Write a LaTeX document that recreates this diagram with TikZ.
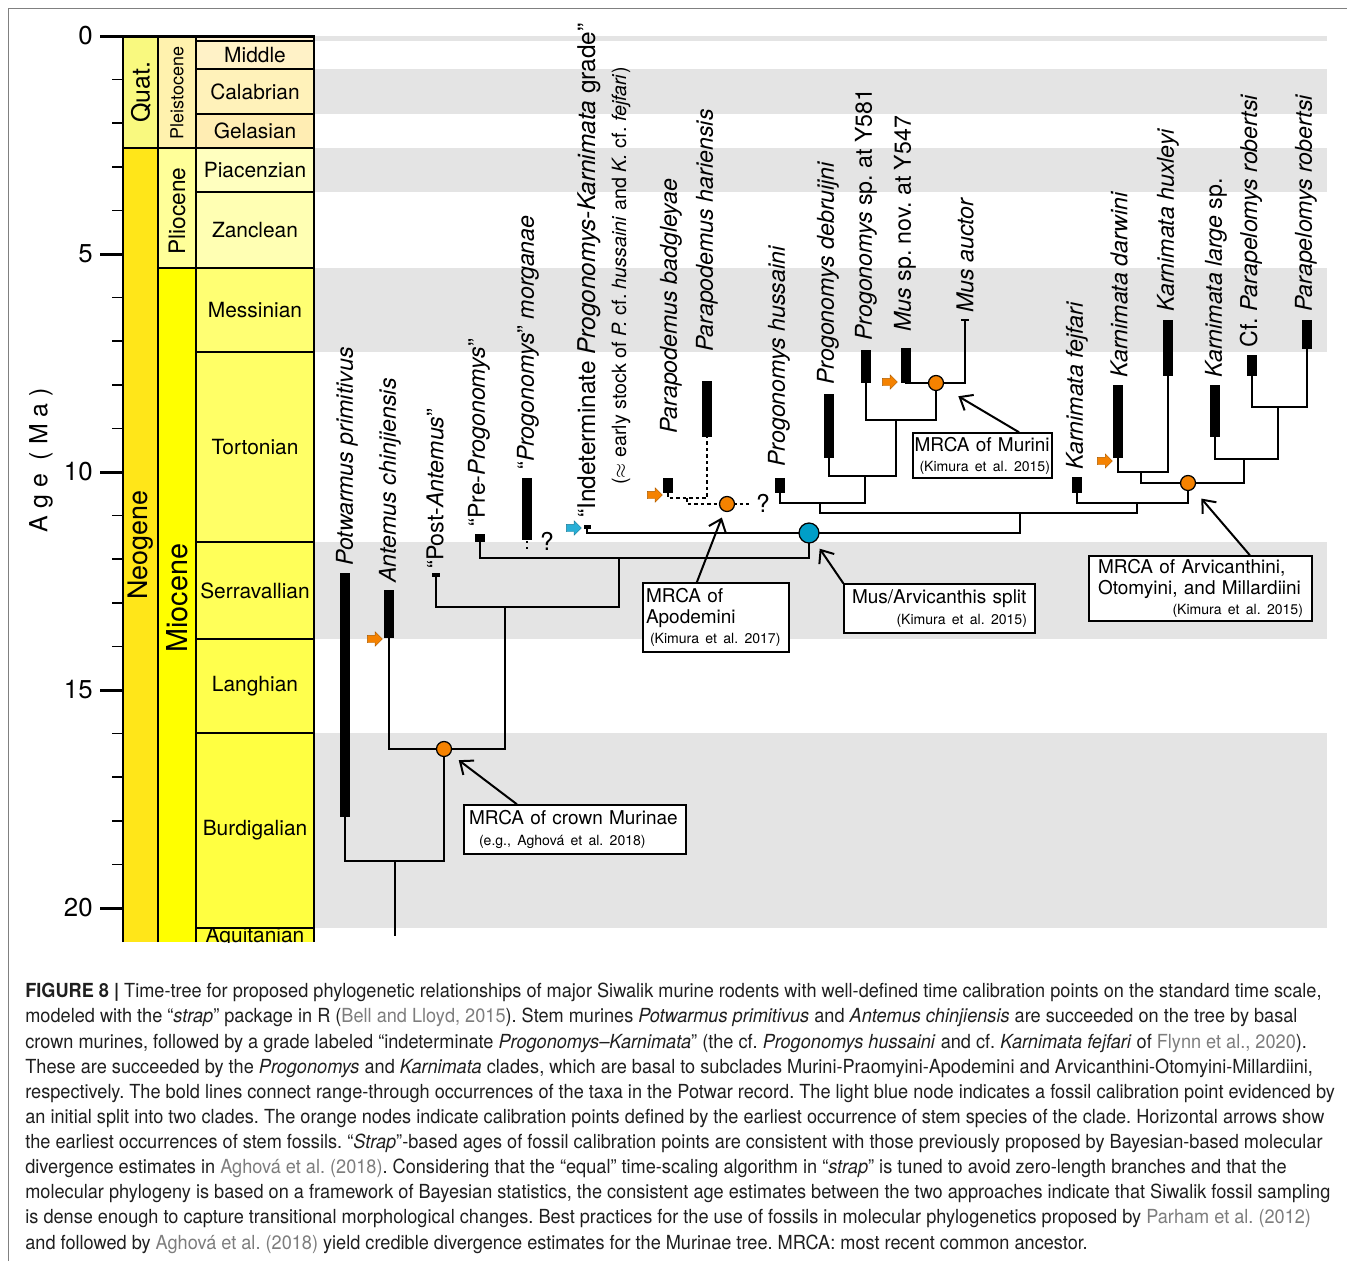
\documentclass[tikz,border=0pt]{standalone}
\usepackage{fontspec}
\setmainfont{TeX Gyre Heros}
\newfontfamily\capfont[FakeStretch=0.935]{TeX Gyre Heros}
\usetikzlibrary{arrows.meta, shapes.arrows, calc}
\definecolor{quatcol}{RGB}{249,249,127}
\definecolor{neogcol}{RGB}{255,230,25}
\definecolor{pleiscol}{RGB}{255,242,174}
\definecolor{pliocol}{RGB}{255,255,153}
\definecolor{miocol}{RGB}{255,255,0}
\definecolor{upl}{RGB}{255,242,211}
\definecolor{mid}{RGB}{255,242,199}
\definecolor{cal}{RGB}{255,242,186}
\definecolor{gel}{RGB}{255,237,179}
\definecolor{pia}{RGB}{255,255,191}
\definecolor{zan}{RGB}{255,255,179}
\definecolor{mes}{RGB}{255,255,115}
\definecolor{tor}{RGB}{255,255,102}
\definecolor{ser}{RGB}{255,255,89}
\definecolor{lan}{RGB}{255,255,77}
\definecolor{bur}{RGB}{255,255,65}
\definecolor{aqu}{RGB}{255,255,51}
\definecolor{bandgray}{RGB}{228,228,228}
\definecolor{calorange}{RGB}{245,130,0}
\definecolor{calblue}{RGB}{0,158,200}
\definecolor{arrblue}{RGB}{40,175,215}
\definecolor{refgray}{RGB}{125,125,125}
\newcommand{\gref}[1]{\textcolor{refgray}{#1}}
\newcommand{\refline}[1]{{\fontsize{8.0}{10}\selectfont\mbox{#1}}}

\begin{document}
\frenchspacing
\begin{tikzpicture}[x=0.02cm, y=-0.02cm,
    colbox/.style={draw=black, line width=0.04cm},
    stagelbl/.style={font=\fontsize{11.9}{14}\selectfont, inner sep=0pt},
    unitlbl/.style={rotate=90, inner sep=0pt},
    tick/.style={line width=0.035cm},
    majtick/.style={line width=0.06cm},
    branch/.style={line width=0.05cm, line cap=rect},
    rangebar/.style={line width=0.19cm},
    ghost/.style={line width=0.03cm, dash pattern=on 0.07cm off 0.06cm},
    taxon/.style={rotate=90, anchor=west, inner sep=0pt, font=\fontsize{13.2}{15}\selectfont},
    calorg/.style={circle, draw, line width=0.025cm, fill=calorange, minimum size=0.3cm, inner sep=0pt},
    calblu/.style={circle, draw, line width=0.025cm, fill=calblue, minimum size=0.4cm, inner sep=0pt},
    fosarr/.style={single arrow, draw=#1!70!black, fill=#1, line width=0.2pt, inner sep=0.07cm,
      minimum height=0.3cm, single arrow head extend=0.07cm},
    mrca/.style={draw, line width=0.03cm, fill=white, align=left, inner ysep=0.04cm,
      font=\fontsize{10.8}{11.5}\selectfont},
    callout/.style={-{Straight Barb[length=0.22cm, width=0.36cm]}, line width=0.04cm},
    qmark/.style={font=\fontsize{14}{16}\selectfont, inner sep=0pt},
  ]
  \useasboundingbox (0,0) rectangle (1355,1261);
  % frame
  \draw[gray, line width=0.02cm] (8,1261) -- (8,8) -- (1347,8);

  % grey stage bands
  \foreach \ya/\yb in {36/41, 69/114, 148/192, 268/352, 542/639, 733/928}
    \fill[bandgray] (314,\ya) rectangle (1327,\yb);

  % time scale columns
  \draw[colbox, fill=quatcol] (123,36) rectangle (158,148);
  \filldraw[colbox, fill=neogcol] (123,942) -- (123,148) -- (158,148) -- (158,942);
  \draw[colbox, fill=pleiscol] (158,36) rectangle (196,148);
  \draw[colbox, fill=pliocol] (158,148) rectangle (196,268);
  \filldraw[colbox, fill=miocol] (158,942) -- (158,268) -- (196,268) -- (196,942);
  \foreach \ya/\yb/\col/\nm in {36/41/upl/{}, 41/69/mid/Middle, 69/114/cal/Calabrian,
      114/148/gel/Gelasian, 148/192/pia/Piacenzian, 192/268/zan/Zanclean,
      268/352/mes/Messinian, 352/542/tor/Tortonian, 542/639/ser/Serravallian,
      639/733/lan/Langhian, 733/928/bur/Burdigalian}{
    \draw[colbox, fill=\col] (196,\ya) rectangle (314,\yb);
    \node[stagelbl] (stage-\ya) at (255,{(\ya+\yb)/2}) {\nm};
  }
  \filldraw[colbox, fill=aqu] (196,942) -- (196,928) -- (314,928) -- (314,942);
  \begin{scope}
    \clip (196,928) rectangle (314,942);
    \node[stagelbl, anchor=north] (stage-928) at (255,927) {Aquitanian};
  \end{scope}
  \draw[majtick] (100,36) -- (314,36);

  \node[unitlbl, font=\fontsize{14.2}{16}\selectfont] (quat) at (141,92) {Quat.};
  \node[unitlbl, font=\fontsize{15.3}{17}\selectfont] (neog) at (141,545) {Neogene};
  \node[unitlbl, font=\fontsize{10.2}{12}\selectfont] (pleis) at (177,93) {Pleistocene};
  \node[unitlbl, font=\fontsize{12.9}{15}\selectfont] (plio) at (177,211) {Pliocene};
  \node[unitlbl, font=\fontsize{16.4}{18}\selectfont] (mio) at (177,598) {Miocene};

  % age axis
  \foreach \k in {0,...,20}
    \draw[tick] (112,{36+43.6*\k}) -- (123,{36+43.6*\k});
  \foreach \k in {0,5,10,15,20}{
    \draw[majtick] (100,{36+43.6*\k}) -- (123,{36+43.6*\k});
    \node[anchor=east, inner sep=0pt, font=\fontsize{14.7}{16}\selectfont] (age-\k) at (93,{36+43.6*\k}) {\k};
  }
  \node[unitlbl, font=\fontsize{14.2}{16}\selectfont\addfontfeature{LetterSpace=28}] (agelbl) at (41,460) {Age (Ma)};

  % ghost (dashed) lineages
  \draw[ghost] (668,493) -- (668,498) -- (707,498) -- (707,437);
  \draw[ghost] (687,498) -- (687,504) -- (727,504) -- (752,504);
  \draw[line width=0.03cm, dash pattern=on 0.03cm off 0.09cm] (527,541) -- (527,552);
  \node[qmark] (q1) at (547,541) {?};
  \node[qmark] (q2) at (763,503) {?};

  % branches
  \draw[branch] (345,817) -- (345,861) -- (444,861) -- (444,749);
  \draw[branch] (395,861) -- (395,935);
  \draw[branch] (389,638) -- (389,749) -- (505,749) -- (505,607);
  \draw[branch] (436,577) -- (436,607) -- (619,607) -- (619,558);
  \draw[branch] (480,542) -- (480,558) -- (809,558) -- (809,533);
  \draw[branch] (587,527) -- (587,533) -- (1020,533) -- (1020,513);
  \draw[branch] (820,503) -- (820,513) -- (1137,513) -- (1137,503);
  \draw[branch] (780,493) -- (780,503) -- (865,503) -- (865,476);
  \draw[branch] (829,458) -- (829,476) -- (896,476) -- (896,420);
  \draw[branch] (866,383) -- (866,420) -- (936,420) -- (936,383);
  \draw[branch] (906,383) -- (965,383) -- (965,320);
  \draw[line width=0.03cm] (961,320) -- (969,320);
  \draw[branch] (1077,493) -- (1077,503) -- (1188,503) -- (1188,483);
  \draw[branch] (1141,472) -- (1141,483) -- (1244,483) -- (1244,459);
  \draw[branch] (1118,458) -- (1118,472) -- (1168,472) -- (1168,376);
  \draw[branch] (1215,437) -- (1215,459) -- (1278,459) -- (1278,407);
  \draw[branch] (1252,376) -- (1252,407) -- (1307,407) -- (1307,349);

  % range-through bars
  \foreach \x/\ya/\yb in {345/573/817, 389/590/638, 480/534/542, 527/478/540,
      668/478/493, 707/381/437, 780/478/493, 829/394/458, 866/350/383,
      906/348/383, 1077/477/493, 1118/385/458, 1168/320/376, 1215/385/437,
      1252/355/376, 1307/320/349}
    \draw[rangebar] (\x,\ya) -- (\x,\yb);
  \draw[line width=0.16cm] (436,573) -- (436,577);
  \draw[line width=0.14cm] (587,525) -- (587,529);

  % calibration nodes
  \node[calorg] (cmurinae) at (444,749) {};
  \node[calorg] (capodemini) at (727,504) {};
  \node[calblu] (csplit) at (809,533) {};
  \node[calorg] (cmurini) at (936,383) {};
  \node[calorg] (carvic) at (1188,483) {};

  % earliest stem fossils
  \node[fosarr=calorange] (fantemus) at (373,639) {};
  \node[fosarr=arrblue] (findet) at (572,528) {};
  \node[fosarr=calorange] (fbadg) at (653,495) {};
  \node[fosarr=calorange] (fmus) at (888,382) {};
  \node[fosarr=calorange] (fdarw) at (1103,461) {};

  % taxon labels
  \foreach \nm/\x/\y/\t in {
      lpot/347/566/{\textit{Potwarmus primitivus}},
      lant/390/583/{\textit{Antemus chinjiensis}},
      lpost/435/569/{“Post-\textit{Antemus}”},
      lpre/479/527/{“Pre-\textit{Progonomys}”},
      lmorg/528/470/{“\textit{Progonomys}” \textit{morganae}},
      lbad/671/434/{\textit{Parapodemus badgleyae}},
      lhar/707/352/{\textit{Parapodemus hariensis}},
      lhus/779/467/{\textit{Progonomys hussaini}},
      ldeb/828/385/{\textit{Progonomys debruijni}},
      ly581/866/341/{\textit{Progonomys} sp. at Y581},
      ly547/905/332/{\textit{Mus} sp. nov. at Y547},
      lauc/965/313/{\textit{Mus auctor}},
      lfej/1077/470/{\textit{Karnimata fejfari}},
      ldar/1119/378/{\textit{Karnimata darwini}},
      lhux/1168/312/{\textit{Karnimata huxleyi}},
      llar/1216/378/{\textit{Karnimata large} sp.},
      lcfp/1251/348/{Cf. \textit{Parapelomys robertsi}},
      lpar/1306/312/{\textit{Parapelomys robertsi}}}
    \node[taxon] (\nm) at (\x,\y) {\t};
  \node[taxon, font=\fontsize{13.9}{16}\selectfont] (lind) at (589,518)
    {“Indeterminate \textit{Progonomys-Karnimata} grade”};
  \node[taxon, font=\fontsize{11.2}{13}\selectfont] (lind2) at (621,485)
    {($\approx$ early stock of \textit{P.} cf. \textit{hussaini} and \textit{K.} cf. \textit{fejfari})};

  % MRCA boxes
  \node[mrca, text width=4.24cm, inner xsep=0.1cm, minimum height=0.98cm] (bmurinae) at (575,829.5)
    {\mbox{MRCA of crown Murinae}\\\hspace*{0.2cm}\refline{(e.g., Aghová et al. 2018)}};
  \node[mrca, text width=2.8cm, inner xsep=0.06cm, minimum height=1.38cm] (bapodemini) at (716,617.5)
    {MRCA of\\Apodemini\\\hspace*{0.08cm}\refline{(Kimura et al. 2017)}};
  \node[mrca, text width=3.5cm, inner xsep=0.16cm, minimum height=0.98cm] (bsplit) at (939.5,608.5)
    {\mbox{Mus/Arvicanthis split}\\\hfill\refline{(Kimura et al. 2015)}};
  \node[mrca, text width=2.72cm, inner xsep=0.03cm, minimum height=0.9cm] (bmurini) at (982.5,455.5)
    {\mbox{MRCA of Murini}\\\hspace*{0.1cm}\refline{(Kimura et al. 2015)}};
  \node[mrca, text width=4.1cm, inner xsep=0.18cm, minimum height=1.3cm] (barvic) at (1200.5,588.5)
    {\mbox{MRCA of Arvicanthini,}\\\mbox{Otomyini, and Millardiini}\\\hfill\refline{(Kimura et al. 2015)}};

  % callouts
  \draw[callout, shorten >=0.37cm] ($(bmurinae.north west)!0.24!(bmurinae.north east)$) -- (cmurinae.center);
  \draw[callout, shorten >=0.29cm] ($(bapodemini.north west)!0.37!(bapodemini.north east)$) -- (capodemini.center);
  \draw[callout, shorten >=0.38cm] (bsplit.north west) -- (csplit.center);
  \draw[callout, shorten >=0.52cm] ($(bmurini.north west)!0.76!(bmurini.north east)$) -- (cmurini.center);
  \draw[callout, shorten >=0.41cm] ($(barvic.north west)!0.72!(barvic.north east)$) -- (carvic.center);

  % caption
  \node[anchor=north west, inner sep=0pt, align=left, text=black!88,
        font=\capfont\fontsize{11.05}{14.3}\selectfont] (caption) at (25,983) {%
    \textbf{FIGURE 8 |} Time-tree for proposed phylogenetic relationships of major Siwalik murine rodents with well-defined time calibration points on the standard time scale,\\
    modeled with the “\textit{strap}” package in R (\gref{Bell and Lloyd, 2015}). Stem murines \textit{Potwarmus primitivus} and \textit{Antemus chinjiensis} are succeeded on the tree by basal\\
    crown murines, followed by a grade labeled “indeterminate \textit{Progonomys–Karnimata}” (the cf. \textit{Progonomys hussaini} and cf. \textit{Karnimata fejfari} of \gref{Flynn et al., 2020}).\\
    These are succeeded by the \textit{Progonomys} and \textit{Karnimata} clades, which are basal to subclades Murini-Praomyini-Apodemini and Arvicanthini-Otomyini-Millardiini,\\
    respectively. The bold lines connect range-through occurrences of the taxa in the Potwar record. The light blue node indicates a fossil calibration point evidenced by\\
    an initial split into two clades. The orange nodes indicate calibration points defined by the earliest occurrence of stem species of the clade. Horizontal arrows show\\
    the earliest occurrences of stem fossils. “\textit{Strap}”-based ages of fossil calibration points are consistent with those previously proposed by Bayesian-based molecular\\
    divergence estimates in \gref{Aghová et al. (2018)}. Considering that the “equal” time-scaling algorithm in “\textit{strap}” is tuned to avoid zero-length branches and that the\\
    molecular phylogeny is based on a framework of Bayesian statistics, the consistent age estimates between the two approaches indicate that Siwalik fossil sampling\\
    is dense enough to capture transitional morphological changes. Best practices for the use of fossils in molecular phylogenetics proposed by \gref{Parham et al. (2012)}\\
    and followed by \gref{Aghová et al. (2018)} yield credible divergence estimates for the Murinae tree. MRCA: most recent common ancestor.};
\end{tikzpicture}
\end{document}
